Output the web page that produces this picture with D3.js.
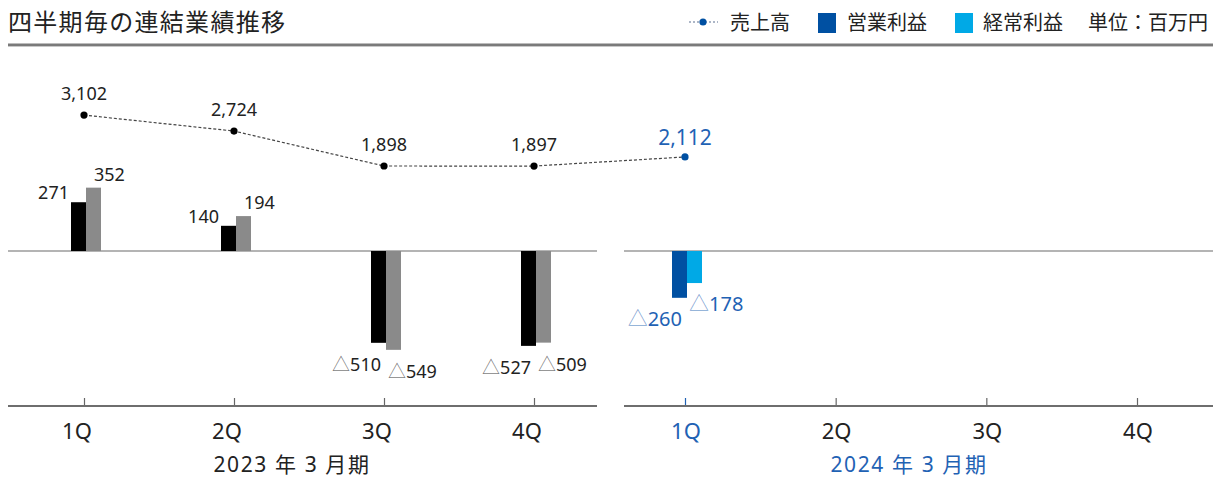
<!DOCTYPE html>
<html><head><meta charset="utf-8">
<script src="https://cdn.jsdelivr.net/npm/d3@7"></script>
<style>
html,body{margin:0;padding:0;background:#fff;}
svg{display:block;font-family:"Noto Sans","Noto Sans CJK JP",sans-serif;}
</style></head>
<body>
<svg id="chart" width="1221" height="477"></svg>
<script>
// ---- data ----
const quarters = ["1Q","2Q","3Q","4Q"];
const periods = ["2023 年 3 月期","2024 年 3 月期"];
const sales2023 = [3102, 2724, 1898, 1897];
const sales2024 = [2112];
const opProfit2023 = [271, 140, -510, -527];
const ordProfit2023 = [352, 194, -549, -509];
const opProfit2024 = [-260];
const ordProfit2024 = [-178];
const legendLabels = ["売上高","営業利益","経常利益"];
const unitLabel = "単位：百万円";
const titleText = "四半期毎の連結業績推移";

// ---- styles ----
const BLUE_TXT = "#1f62b4", DARK_BLUE = "#0050a2", LIGHT_BLUE = "#00a9e6";
const BLACK = "#000", GRAY = "#8a8a8a", TXT = "#222";

const svg = d3.select("#chart");

// scales
const xL = d3.scalePoint().domain(quarters).range([84, 534]);
const xR = d3.scalePoint().domain(quarters).range([685, 1137]);
const y = d3.scaleLinear().domain([-861, 1000]).range([406, 71]);
const ys = d3.scaleLinear().domain([0, 4000]).range([246.3, 77.1]);
const num = v => d3.format(",")(Math.abs(v));

// title
svg.append("text").attr("x", 8).attr("y", 31).attr("font-size", 24)
  .attr("letter-spacing", 1.3).attr("fill", TXT)
  .attr("font-family", "'Noto Sans CJK JP',sans-serif").text(titleText);
svg.append("rect").attr("x", 8).attr("y", 43.5).attr("width", 1205).attr("height", 2.5).attr("fill", "#7a7a7a");
svg.append("rect").attr("x", 8).attr("y", 46).attr("width", 1205).attr("height", 1).attr("fill", "#c8c8c8");

// legend
const lg = svg.append("g").attr("font-family", "'Noto Sans CJK JP',sans-serif").attr("font-size", 20).attr("fill", TXT);
lg.append("line").attr("x1", 689).attr("x2", 718).attr("y1", 22).attr("y2", 22)
  .attr("stroke", "#5a6f90").attr("stroke-width", 1.2).attr("stroke-dasharray", "2,2");
lg.append("circle").attr("cx", 703).attr("cy", 22).attr("r", 3.6).attr("fill", DARK_BLUE);
lg.append("text").attr("x", 730).attr("y", 30).text(legendLabels[0]);
lg.append("rect").attr("x", 818).attr("y", 13).attr("width", 18).attr("height", 20).attr("fill", DARK_BLUE);
lg.append("text").attr("x", 847).attr("y", 30).text(legendLabels[1]);
lg.append("rect").attr("x", 955).attr("y", 13).attr("width", 18).attr("height", 20).attr("fill", LIGHT_BLUE);
lg.append("text").attr("x", 983).attr("y", 30).text(legendLabels[2]);
lg.append("text").attr("x", 1088).attr("y", 30).text(unitLabel);

// zero lines
const y0 = y(0);
svg.append("line").attr("x1", 8).attr("x2", 597).attr("y1", y0).attr("y2", y0).attr("stroke", "#b4b4b4").attr("stroke-width", 2);
svg.append("line").attr("x1", 624).attr("x2", 1213).attr("y1", y0).attr("y2", y0).attr("stroke", "#b4b4b4").attr("stroke-width", 2);

// bottom axes
function drawAxis(scale, x1, x2, highlight) {
  const g = svg.append("g").attr("transform", `translate(0,${y(-861)})`);
  g.call(d3.axisTop(scale).tickSize(8).tickFormat(""));
  g.select(".domain").remove();
  g.selectAll(".tick line").attr("stroke", (d, i) => (highlight && i === 0) ? BLUE_TXT : "#666").attr("stroke-width", 1.2);
  g.append("line").attr("x1", x1).attr("x2", x2).attr("y1", 0).attr("y2", 0).attr("stroke", "#6e6e6e").attr("stroke-width", 2);
  return g;
}
drawAxis(xL, 8, 597, false);
drawAxis(xR, 624, 1213, true);

// tick labels
const tl = svg.append("g").attr("font-size", 22);
tl.selectAll(".tl").data(quarters).join("text")
  .attr("x", d => xL(d) - 7).attr("y", 439).attr("text-anchor", "middle").attr("fill", TXT).text(d => d);
tl.selectAll(".tr").data(quarters).join("text")
  .attr("x", d => xR(d) + 1).attr("y", 439).attr("text-anchor", "middle")
  .attr("fill", (d, i) => i === 0 ? BLUE_TXT : TXT).text(d => d);

// period labels
svg.append("text").attr("x", (xL("1Q") + xL("4Q")) / 2 - 17).attr("y", 472).attr("text-anchor", "middle")
  .attr("font-size", 21).attr("fill", TXT).attr("letter-spacing", 1.6).text(periods[0]);
svg.append("text").attr("x", (xR("1Q") + xR("4Q")) / 2 - 2).attr("y", 472).attr("text-anchor", "middle")
  .attr("font-size", 21).attr("fill", BLUE_TXT).attr("letter-spacing", 1.6).text(periods[1]);

// label with a lighter triangle for negatives
function labelText(sel, v) {
  if (v < 0) {
    sel.append("tspan").attr("fill-opacity", 0.6).text("△");
  }
  sel.append("tspan").text(num(v));
}

// bars
const BW = 15;
function drawBars(scale, ops, ords, cOp, cOrd, labelColor, fs) {
  const g = svg.append("g");
  quarters.slice(0, ops.length).forEach((q, i) => {
    const cx = scale(q);
    const xa = cx - 13, xb = cx + 2;
    const vo = ops[i], vr = ords[i];
    g.append("rect").attr("x", xa).attr("width", BW)
      .attr("y", Math.min(y(vo), y0)).attr("height", Math.abs(y(vo) - y0)).attr("fill", cOp);
    g.append("rect").attr("x", xb).attr("width", BW)
      .attr("y", Math.min(y(vr), y0)).attr("height", Math.abs(y(vr) - y0)).attr("fill", cOrd);
    const to = g.append("text").attr("font-size", fs).attr("fill", labelColor);
    labelText(to, vo);
    if (vo >= 0) to.attr("x", xa - 2).attr("y", y(vo) - 3).attr("text-anchor", "end");
    else to.attr("x", xa + 10).attr("y", y(vo) + 28).attr("text-anchor", "end");
    const tr = g.append("text").attr("font-size", fs).attr("fill", labelColor);
    labelText(tr, vr);
    if (vr >= 0) tr.attr("x", xb + 8).attr("y", y(vr) - 7).attr("text-anchor", "start");
    else tr.attr("x", xb + 2).attr("y", y(vr) + 28).attr("text-anchor", "start");
  });
}
drawBars(xL, opProfit2023, ordProfit2023, BLACK, GRAY, TXT, 18);
drawBars(xR, opProfit2024, ordProfit2024, DARK_BLUE, LIGHT_BLUE, BLUE_TXT, 20);

// sales line
const pts = sales2023.map((v, i) => [xL(quarters[i]), ys(v)])
  .concat(sales2024.map((v, i) => [xR(quarters[i]), ys(v)]));
svg.append("path").attr("d", d3.line()(pts)).attr("fill", "none")
  .attr("stroke", "#444").attr("stroke-width", 1.2).attr("stroke-dasharray", "3,2");
const allSales = sales2023.concat(sales2024);
svg.selectAll(".dot").data(pts).join("circle")
  .attr("cx", d => d[0]).attr("cy", d => d[1]).attr("r", 3.6)
  .attr("fill", (d, i) => i < sales2023.length ? BLACK : DARK_BLUE);
svg.selectAll(".sl").data(pts).join("text")
  .attr("x", d => d[0]).attr("y", (d, i) => d[1] - (i < sales2023.length ? 15 : 12))
  .attr("text-anchor", "middle")
  .attr("font-size", (d, i) => i < sales2023.length ? 18 : 21)
  .attr("fill", (d, i) => i < sales2023.length ? TXT : BLUE_TXT)
  .text((d, i) => num(allSales[i]));
</script>
</body></html>
